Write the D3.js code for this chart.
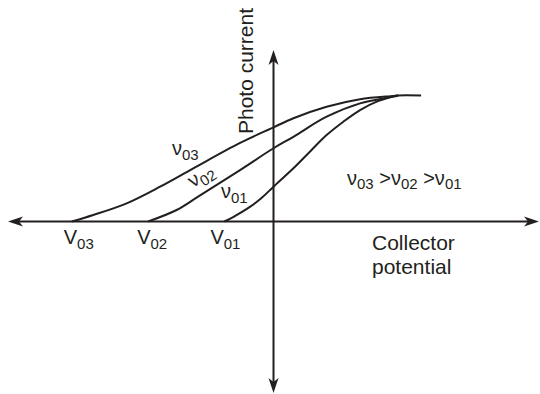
<!DOCTYPE html>
<html>
<head>
<meta charset="utf-8">
<script src="https://cdn.jsdelivr.net/npm/d3@7"></script>
<style>
  html, body { margin: 0; padding: 0; background: #fff; }
  svg text { font-family: "Liberation Sans", Arial, sans-serif; fill: #231f20; }
</style>
</head>
<body>
<div id="chart"></div>
<script>
// curves in arbitrary units (collector potential, photo current)
const curve03 = [[-7.6, 0], [-6.79, 0.38], [-5.53, 1.06], [-4.27, 2.03], [-3.02, 3.1], [-1.26, 4.58], [0, 5.49], [0.75, 6.02], [2.0, 6.69], [3.26, 7.13], [4.5, 7.32], [4.69, 7.35], [5.56, 7.35]];
const curve02 = [[-4.72, 0], [-3.65, 0.67], [-2.84, 1.45], [-1.26, 3.0], [0, 4.27], [0.75, 4.94], [2.0, 6.11], [3.26, 6.89], [4.5, 7.28], [4.69, 7.35]];
const curve01 = [[-1.85, 0], [-1.52, 0.26], [-0.89, 0.85], [-0.43, 1.4], [0, 2.03], [0.75, 3.1], [1.37, 4.07], [2.0, 5.04], [2.63, 5.82], [3.26, 6.5], [3.89, 6.99], [4.5, 7.28], [4.69, 7.35]];
const stopLabels = ["03", "02", "01"];

(() => {
    const width = 540, height = 394;
    const ink = "#231f20";

    const x = d3.scaleLinear().domain([-10, 10]).range([8, 539]);
    const y = d3.scaleLinear().domain([-10, 10]).range([393, 50]);

    const svg = d3.select("#chart").append("svg")
        .attr("width", width)
        .attr("height", height);

    // axes
    svg.append("line")
        .attr("x1", x(-10) + 8).attr("x2", x(10) - 8)
        .attr("y1", y(0)).attr("y2", y(0))
        .attr("stroke", ink).attr("stroke-width", 2);
    svg.append("line")
        .attr("x1", x(0)).attr("x2", x(0))
        .attr("y1", y(10) + 8).attr("y2", y(-10) - 8)
        .attr("stroke", ink).attr("stroke-width", 2);

    const arrow = (tx, ty, angle) => svg.append("path")
        .attr("d", "M0,0L-15,-5L-11,0L-15,5Z")
        .attr("fill", ink)
        .attr("transform", `translate(${tx},${ty}) rotate(${angle})`);
    arrow(x(10), y(0), 0);
    arrow(x(-10), y(0), 180);
    arrow(x(0), y(10), -90);
    arrow(x(0), y(-10), 90);

    // curves
    const line = d3.line()
        .x(d => x(d[0]))
        .y(d => y(d[1]))
        .curve(d3.curveCatmullRom.alpha(0.5));

    [curve03, curve02, curve01].forEach(c => {
        svg.append("path")
            .datum(c)
            .attr("fill", "none")
            .attr("stroke", ink)
            .attr("stroke-width", 2)
            .attr("d", line);
    });

    // helper: base letter + subscript
    const sub = (g, base, s, size, subSize) => {
        const t = g.append("text").style("font-size", size + "px");
        t.append("tspan").text(base);
        t.append("tspan").attr("dy", 5).style("font-size", subSize + "px").text(s);
        return t;
    };

    // stopping potentials under the axis
    const starts = [curve03[0][0], curve02[0][0], curve01[0][0]];
    starts.forEach((s, i) => {
        sub(svg, "V", stopLabels[i], 20, 15)
            .attr("x", x(s) - 8 - i * 3)
            .attr("y", y(0) + 22);
    });

    // frequency labels on the curves
    sub(svg, "ν", "03", 20, 15).attr("x", 172).attr("y", 155);
    sub(svg, "ν", "02", 20, 15)
        .attr("transform", "translate(193,188) rotate(-33)");
    sub(svg, "ν", "01", 20, 15).attr("x", 221).attr("y", 198);

    const rel = svg.append("text").attr("x", 347).attr("y", 185).style("font-size", "20px");
    rel.append("tspan").text("ν");
    rel.append("tspan").attr("dy", 4).style("font-size", "15px").text("03");
    rel.append("tspan").attr("dy", -4).text(" >ν");
    rel.append("tspan").attr("dy", 4).style("font-size", "15px").text("02");
    rel.append("tspan").attr("dy", -4).text(" >ν");
    rel.append("tspan").attr("dy", 4).style("font-size", "15px").text("01");

    // axis titles
    svg.append("text")
        .attr("transform", `translate(253,71) rotate(-90)`)
        .attr("text-anchor", "middle")
        .style("font-size", "21px")
        .text("Photo current");

    const xt = svg.append("text").attr("x", 372).attr("y", 250).style("font-size", "21px");
    xt.append("tspan").attr("x", 372).text("Collector");
    xt.append("tspan").attr("x", 372).attr("dy", 24).text("potential");
})();
</script>
</body>
</html>
